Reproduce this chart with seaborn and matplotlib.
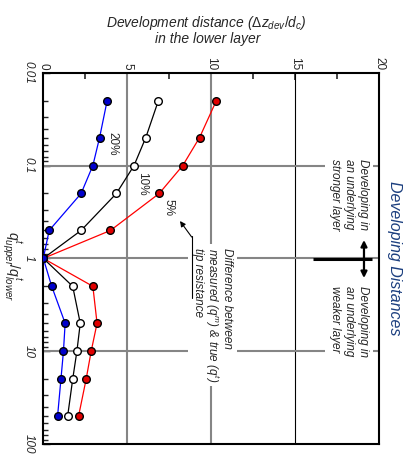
import pandas as pd
import matplotlib.pyplot as plt
import seaborn as sns
from matplotlib.ticker import FixedLocator, LogLocator, NullFormatter

# Ratio of tip resistances q_upper / q_lower (log axis)
ratio = [0.02, 0.05, 0.1, 0.2, 0.5, 1, 2, 5, 10, 20, 50]

# Development distance (dz_dev / d_c) for each error threshold
dist_5 = [10.3, 9.3, 8.3, 6.9, 4.0, 0, 2.95, 3.2, 2.85, 2.55, 2.1]
dist_10 = [6.85, 6.1, 5.4, 4.35, 2.25, 0, 1.75, 2.2, 2.0, 1.75, 1.45]
dist_20 = [3.8, 3.35, 2.95, 2.25, 0.35, 0, 0.5, 1.3, 1.2, 1.05, 0.85]

series_names = ['5%', '10%', '20%']
x_ticks = [0, 5, 10, 15, 20]
y_ticks = [0.01, 0.1, 1, 10, 100]
y_tick_labels = ['0.01', '0.1', '1', '10', '100']

df = pd.concat([
    pd.DataFrame({'ratio': ratio, 'distance': dist_5, 'threshold': '5%'}),
    pd.DataFrame({'ratio': ratio, 'distance': dist_10, 'threshold': '10%'}),
    pd.DataFrame({'ratio': ratio, 'distance': dist_20, 'threshold': '20%'}),
])

sns.set_style("white")
plt.rcParams['font.family'] = ['Liberation Sans', 'DejaVu Sans']
plt.rcParams['mathtext.fontset'] = 'custom'
plt.rcParams['mathtext.rm'] = 'Liberation Sans'
plt.rcParams['mathtext.it'] = 'Liberation Sans:italic'

fig = plt.figure(figsize=(4.12, 4.54), dpi=100)
ax = fig.add_axes([0.1051, 0.0220, 0.8155, 0.8178])
ax.set_yscale('log')

styles = {
    '5%': dict(color='#ff0000', markerfacecolor='#e00000'),
    '10%': dict(color='black', markerfacecolor='white'),
    '20%': dict(color='#0000ff', markerfacecolor='#0000cc'),
}
for name in series_names:
    sub = df[df['threshold'] == name]
    sns.lineplot(data=sub, x='distance', y='ratio', orient='y', estimator=None,
                 marker='o', markersize=5.5, markeredgecolor='black',
                 markeredgewidth=1, linewidth=0.9, ax=ax, zorder=4,
                 **styles[name])

ax.set_xlim(0, 20)
ax.set_ylim(100, 0.01)
ax.set_xlabel('')
ax.set_ylabel('')

# grid lines (drawn by hand, 15 is darker in the original)
for v in [5, 10]:
    ax.axvline(v, color='#858585', lw=1.5, zorder=1)
ax.axvline(15, color='black', lw=0.8, zorder=1)
for h in [0.1, 1, 10]:
    ax.axhline(h, color='#858585', lw=1.5, zorder=1)

# ticks
ax.xaxis.tick_top()
ax.set_xticks(x_ticks)
ax.set_xticklabels([str(t) for t in x_ticks])
ax.xaxis.set_minor_locator(FixedLocator([2.5, 7.5, 12.5, 17.5]))
ax.tick_params(axis='x', which='both', direction='in', top=True, bottom=False,
               labelrotation=-90, labelsize=8.5, pad=2, width=1.2)
ax.tick_params(axis='x', which='major', length=5)
ax.tick_params(axis='x', which='minor', length=4)

ax.set_yticks(y_ticks)
ax.set_yticklabels(y_tick_labels)
ax.yaxis.set_minor_locator(LogLocator(base=10, subs=range(2, 10)))
ax.yaxis.set_minor_formatter(NullFormatter())
ax.tick_params(axis='y', which='both', direction='in', left=True, right=False,
               labelrotation=-90, labelsize=8.5, pad=6, width=1)
ax.tick_params(axis='y', which='major', length=5)
ax.tick_params(axis='y', which='minor', length=3.5)
for lab in ax.get_yticklabels():
    lab.set_va('center')
    lab.set_style('italic')

for sp in ax.spines.values():
    sp.set_color('black')
    sp.set_linewidth(1.5)


def ax_pt(px, py):
    # pixel position in the figure -> axes fraction
    return ((px - 43.3) / 336.0, (444.0 - py) / 371.3)


tr = ax.transAxes

# percent labels
for name, (px, py) in zip(series_names, [(168, 207), (141.7, 183.3), (112.7, 144)]):
    ax.text(*ax_pt(px, py), name, transform=tr, rotation=-90, fontsize=8.5,
            ha='center', va='center')

box = dict(facecolor='white', edgecolor='none', pad=3)

ax.text(*ax_pt(212.5, 315),
        'Difference between\nmeasured ($q^m$) & true ($q^t$)\ntip resistance',
        transform=tr, rotation=-90, fontsize=8.5, style='italic',
        linespacing=0.95, ha='center', va='center', multialignment='left',
        bbox=box, zorder=3)
ax.plot([ax_pt(191.7, 236)[0], ax_pt(191.7, 298)[0]],
        [ax_pt(191.7, 236)[1], ax_pt(191.7, 298)[1]],
        color='black', lw=0.8, transform=tr, zorder=3.5)
ax.annotate('', xy=ax_pt(180, 221), xytext=ax_pt(191.7, 237),
            xycoords=tr, textcoords=tr,
            arrowprops=dict(arrowstyle='-|>', color='black', lw=0.8,
                            mutation_scale=8, shrinkA=0, shrinkB=0))

ax.text(*ax_pt(349, 195), 'Developing in\nan underlying\nstronger layer',
        transform=tr, rotation=-90, fontsize=8.5, style='italic',
        linespacing=1.2, ha='center', va='center', multialignment='left',
        bbox=box, zorder=3)
ax.text(*ax_pt(349, 321), 'Developing in\nan underlying\nweaker layer',
        transform=tr, rotation=-90, fontsize=8.5, style='italic',
        linespacing=1.2, ha='center', va='center', multialignment='left',
        bbox=box, zorder=3)

# boundary marker and double arrow on the right
ax.plot([ax_pt(313, 259)[0], ax_pt(372, 259)[0]],
        [ax_pt(313, 259)[1], ax_pt(372, 259)[1]],
        color='black', lw=2.2, transform=tr, zorder=3, solid_capstyle='butt')
ax.annotate('', xy=ax_pt(364, 240), xytext=ax_pt(364, 278),
            xycoords=tr, textcoords=tr,
            arrowprops=dict(arrowstyle='<|-|>', color='black', lw=1.6,
                            mutation_scale=9, shrinkA=0, shrinkB=0))

# titles around the rotated chart
fig.text(0.502, 0.9405, r'Development distance ($\Delta z_{dev}/d_c$)',
         ha='center', va='baseline', fontsize=10, style='italic')
fig.text(0.505, 0.9042, 'in the lower layer',
         ha='center', va='baseline', fontsize=10, style='italic')
fig.text(0.029, 0.414, r'$q^t_{upper}/q^t_{lower}$', rotation=-90,
         ha='center', va='center', fontsize=10)
fig.text(0.9587, 0.4317, 'Developing Distances', rotation=-90,
         ha='center', va='center', fontsize=11.5, style='italic',
         color='#1c3f7f')

fig.savefig('out.png', dpi=100)
